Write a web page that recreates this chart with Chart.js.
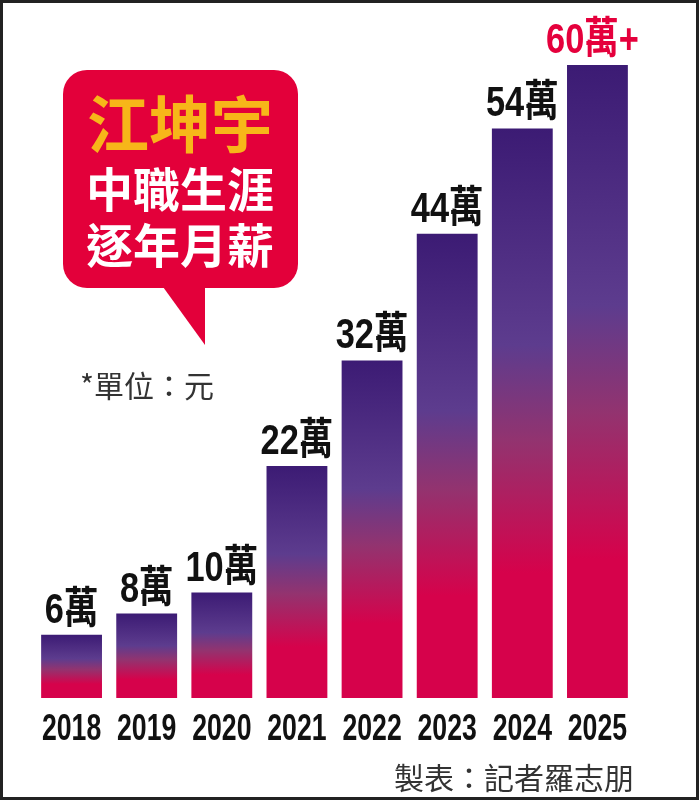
<!DOCTYPE html>
<html>
<head>
<meta charset="utf-8">
<script src="https://cdn.jsdelivr.net/npm/chart.js@4"></script>
<style>
  html, body { margin: 0; padding: 0; background: #fff; }
  canvas { display: block; }
</style>
</head>
<body>
<canvas id="salaryChart" width="699" height="800"></canvas>
<script>
// data (萬 = 10,000 NTD / month)
const years = ['2018', '2019', '2020', '2021', '2022', '2023', '2024', '2025'];
const salaries = [6, 8, 10, 22, 32, 44, 54, 60];
const valueLabels = ['6萬', '8萬', '10萬', '22萬', '32萬', '44萬', '54萬', '60萬+'];

const latinFont = '"Liberation Sans", "Noto Sans CJK TC", sans-serif';
const cjkFont = '"Noto Sans CJK TC", "Noto Sans", sans-serif';

// purple -> crimson gradient for every bar
function barGradient(c) {
  const chart = c.chart;
  const { ctx, chartArea, scales } = chart;
  if (!chartArea) return '#d6004a';
  const top = scales.y.getPixelForValue(c.raw);
  const base = scales.y.getPixelForValue(0);
  const g = ctx.createLinearGradient(0, top, 0, base);
  g.addColorStop(0, '#3c1b74');
  g.addColorStop(0.38, '#5d3c8e');
  g.addColorStop(0.55, '#93336f');
  g.addColorStop(0.78, '#d6024b');
  g.addColorStop(1, '#d6024b');
  return g;
}

// the original type is very condensed, so squeeze text horizontally
function narrowText(ctx, text, x, y, squeeze) {
  ctx.save();
  ctx.translate(x, y);
  ctx.scale(squeeze, 1);
  ctx.fillText(text, 0, 0);
  ctx.restore();
}

// frame, speech bubble, notes
const decorations = {
  id: 'decorations',
  beforeDraw(chart) {
    const ctx = chart.ctx;
    ctx.save();
    ctx.fillStyle = '#fff';
    ctx.fillRect(0, 0, chart.width, chart.height);

    // bubble
    ctx.fillStyle = '#e3003a';
    ctx.beginPath();
    ctx.roundRect(63, 70, 235, 218, 24);
    ctx.fill();
    ctx.beginPath();
    ctx.moveTo(158, 280);
    ctx.lineTo(205, 345);
    ctx.lineTo(205, 280);
    ctx.closePath();
    ctx.fill();

    ctx.textAlign = 'center';
    ctx.textBaseline = 'middle';
    ctx.fillStyle = '#f7b619';
    ctx.font = 'bold 62px ' + cjkFont;
    ctx.fillText('江坤宇', 180, 124);
    ctx.fillStyle = '#fff';
    ctx.font = 'bold 47px ' + cjkFont;
    ctx.fillText('中職生涯', 180, 189);
    ctx.fillText('逐年月薪', 180, 245);

    ctx.textAlign = 'left';
    ctx.fillStyle = '#333';
    ctx.font = '30px ' + cjkFont;
    ctx.fillText('*單位：元', 80, 386);

    ctx.textAlign = 'right';
    ctx.font = '30px ' + cjkFont;
    ctx.fillText('製表：記者羅志朋', 634, 778);
    ctx.restore();
  },
  afterDraw(chart) {
    const ctx = chart.ctx;
    ctx.save();
    ctx.strokeStyle = '#222';
    ctx.lineWidth = 3;
    ctx.strokeRect(1.5, 1.5, chart.width - 3, chart.height - 3);
    ctx.restore();
  }
};

// value labels above bars and year labels under the x axis
const labelPlugin = {
  id: 'labels',
  afterDatasetsDraw(chart) {
    const ctx = chart.ctx;
    const meta = chart.getDatasetMeta(0);
    const xScale = chart.scales.x;
    ctx.save();
    ctx.textAlign = 'center';
    ctx.textBaseline = 'alphabetic';

    ctx.font = 'bold 43px ' + latinFont;
    meta.data.forEach((bar, i) => {
      const last = i === meta.data.length - 1;
      ctx.fillStyle = last ? '#e5003c' : '#111';
      narrowText(ctx, valueLabels[i], last ? bar.x - 5 : bar.x, bar.y - 12, 0.8);
    });

    ctx.fillStyle = '#111';
    ctx.font = 'bold 37px ' + latinFont;
    xScale.ticks.forEach((t, i) => {
      narrowText(ctx, xScale.getLabelForValue(t.value), xScale.getPixelForTick(i), chart.chartArea.bottom + 42, 0.72);
    });
    ctx.restore();
  }
};

const ctx = document.getElementById('salaryChart').getContext('2d');
const salaryChart = new Chart(ctx, {
  type: 'bar',
  data: {
    labels: years,
    datasets: [{
      data: salaries,
      backgroundColor: barGradient,
      borderWidth: 0,
      barPercentage: 0.81,
      categoryPercentage: 1
    }]
  },
  options: {
    responsive: false,
    animation: false,
    layout: { padding: { left: 34, right: 64, top: 44, bottom: 102 } },
    plugins: {
      legend: { display: false },
      tooltip: { enabled: false }
    },
    scales: {
      x: {
        grid: { display: false, drawTicks: false },
        border: { display: false },
        ticks: { display: false, autoSkip: false, maxRotation: 0 }
      },
      y: {
        display: false,
        min: 0,
        max: 62
      }
    }
  },
  plugins: [decorations, labelPlugin]
});
</script>
</body>
</html>
